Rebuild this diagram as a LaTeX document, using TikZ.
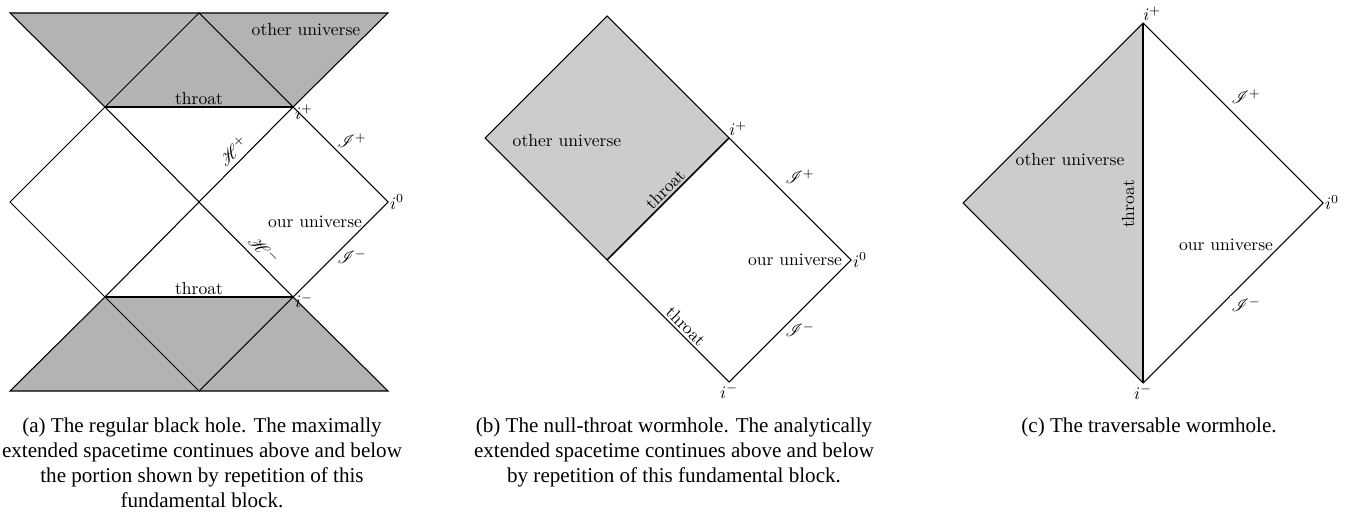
\documentclass[tikz,border=0pt]{standalone}
\usepackage{amsmath}
\usepackage{mathrsfs}
\usepackage{fontspec}
\newfontfamily\capfont{Liberation Serif}
\usepackage{tikz}
\usetikzlibrary{positioning,calc}
\usepackage{xcolor}
\definecolor{deepgray}{HTML}{B3B3B3}
\definecolor{palegray}{HTML}{CCCCCC}
\tikzset{
  wall/.style={
    line width=0.6pt,
    draw=black
  },
  throatline/.style={
    line width=0.9pt,
    draw=black
  },
  farside/.style={
    fill=deepgray
  },
  paleside/.style={
    fill=palegray
  },
  lbl/.style={
    inner sep=1pt,
    font=\normalsize
  },
  tag/.style={
    inner sep=1pt,
    fill=white,
    font=\normalsize
  },
  captext/.style={
    align=center,
    anchor=north,
    inner sep=0pt,
    font=\capfont\fontsize{12}{14.2}\selectfont
  }
}

\begin{document}
\begin{tikzpicture}[x=0.02cm, y=-0.02cm]
\useasboundingbox (0,0) rectangle (1351,513);

% (a) regular black hole
\coordinate (tl) at (10,13);
\coordinate (tm) at (199,13);
\coordinate (tr) at (388,13);
\coordinate (ul) at (105,107);
\coordinate (ipa) at (293,107);
\coordinate (ml) at (10,202);
\coordinate (i0a) at (388,202);
\coordinate (ll) at (105,297);
\coordinate (ima) at (293,297);
\coordinate (bl) at (10,391);
\coordinate (bm) at (199,391);
\coordinate (br) at (388,391);
\fill[farside] (tl) -- (tr) -- (ipa) -- (ul) -- cycle;
\fill[farside] (ll) -- (ima) -- (br) -- (bl) -- cycle;
\draw[wall] (tl) -- (tr) -- (ipa) -- (i0a) -- (ima) -- (br) -- (bl) -- (ll) -- (ml) -- (ul) -- cycle;
\draw[wall] (ul) -- (tm) -- (ipa);
\draw[wall] (ll) -- (bm) -- (ima);
\draw[wall] (ul) -- (ipa);
\draw[wall] (ll) -- (ima);
\draw[wall] (ul) -- (ima);
\draw[wall] (ll) -- (ipa);
\node[lbl] (othera) at (306,30) {other universe};
\node[lbl, above] (throata) at ($(ul)!0.5!(ipa)$) {throat};
\node[lbl, anchor=west] (ipluslab) at ([yshift=-3pt]ipa) {$i^+$};
\node[tag, rotate=45] (hplus) at (233,151) {$\mathscr{H}^+$};
\node[lbl] (scrplusa) at (352,141) {$\mathscr{I}^+$};
\node[lbl, anchor=west] (izeroa) at (i0a) {$i^0$};
\node[lbl] (oura) at (315,222) {our universe};
\node[tag, rotate=-45] (hminus) at (264,250) {$\mathscr{H}^-$};
\node[lbl] (scrminusa) at (352,257) {$\mathscr{I}^-$};
\node[lbl, above] (throatb) at ($(ll)!0.5!(ima)$) {throat};
\node[lbl, anchor=west] (iminuslab) at ([yshift=-2pt]ima) {$i^-$};

% (b) null-throat wormhole
\coordinate (topb) at (607,16);
\coordinate (lftb) at (485,138);
\coordinate (ipb) at (729,138);
\coordinate (thb) at (607,260);
\coordinate (i0b) at (851,260);
\coordinate (imb) at (729,382);
\fill[paleside] (topb) -- (ipb) -- (thb) -- (lftb) -- cycle;
\draw[wall] (topb) -- (ipb) -- (i0b) -- (imb) -- (thb) -- (lftb) -- cycle;
\draw[throatline] (ipb) -- (thb);
\node[lbl] (otherb) at (567,141) {other universe};
\node[lbl, anchor=south west] (iplusb) at ([xshift=-1pt]ipb) {$i^+$};
\node[lbl] (scrplusb) at (800,177) {$\mathscr{I}^+$};
\node[lbl, rotate=45] (throatc) at (665,189) {throat};
\node[lbl] (ourb) at (795,260) {our universe};
\node[lbl, anchor=west] (izerob) at (i0b) {$i^0$};
\node[lbl, rotate=-45] (throatd) at (686,326) {throat};
\node[lbl] (scrminusb) at (800,330) {$\mathscr{I}^-$};
\node[lbl, below] (iminusb) at (imb) {$i^-$};

% (c) traversable wormhole
\coordinate (ipc) at (1143,23);
\coordinate (lftc) at (963,203);
\coordinate (i0c) at (1323,203);
\coordinate (imc) at (1143,383);
\fill[paleside] (ipc) -- (imc) -- (lftc) -- cycle;
\draw[wall] (ipc) -- (i0c) -- (imc) -- (lftc) -- cycle;
\draw[throatline] (ipc) -- (imc);
\node[lbl, anchor=south west] (iplusc) at ([xshift=-1pt]ipc) {$i^+$};
\node[lbl] (otherc) at (1070,160) {other universe};
\node[lbl, rotate=90] (throate) at (1128,204) {throat};
\node[lbl] (scrplusc) at (1246,97) {$\mathscr{I}^+$};
\node[lbl, anchor=south west] (izeroc) at ([yshift=-5pt]i0c) {$i^0$};
\node[lbl] (ourc) at (1226,245) {our universe};
\node[tag] (scrminusc) at (1246,305) {$\mathscr{I}^-$};
\node[lbl, below] (iminusc) at (imc) {$i^-$};

% captions
\node[captext] (capa) at (202,418) {(a) The regular black hole. The maximally\\extended spacetime continues above and below\\the portion shown by repetition of this\\fundamental block.};
\node[captext] (capb) at (674,418) {(b) The null-throat wormhole. The analytically\\extended spacetime continues above and below\\by repetition of this fundamental block.};
\node[captext] (capc) at (1149,418) {(c) The traversable wormhole.};
\end{tikzpicture}
\end{document}
